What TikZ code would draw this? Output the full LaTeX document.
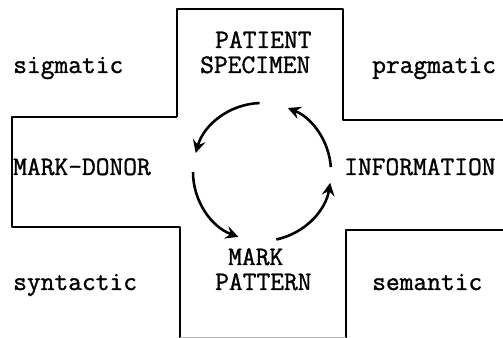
\documentclass[tikz,border=0pt]{standalone}
\usepackage{fontspec}
\usepackage{tikz}
\usetikzlibrary{arrows,arrows.meta,positioning,calc}
\newfontfamily\typewr[FakeBold=1.2]{Latin Modern Mono}

\begin{document}
\begin{tikzpicture}[x=0.03cm, y=0.03cm, >={Stealth[length=11pt,width=11pt,inset=4pt]},
    every node/.style={font=\fontsize{22.8}{24}\typewr, inner sep=0pt, anchor=base west},
    cross/.style={line width=1.2pt, line join=round},
    cycle/.style={line width=2.2pt, ->}]
       \useasboundingbox (0,0) rectangle (503,338);
       % the cross
       \draw[cross] (177,221) -- (177,329) -- (343,329) -- (343,218) -- (503,218);
       \draw[cross] (503,108) -- (346,108) -- (346,0);
       \draw[cross] (177,221) -- (12,221) -- (12,111) -- (180,111) -- (180,0);
       \draw[line width=0.8pt, gray!60] (180,1) -- (346,1);

       % corners
       \node at (13,265) (sig) {sigmatic};
       \node at (372,265) (prag) {pragmatic};
       \node at (13,48) (syn) {syntactic};
       \node at (372,48) (sem) {semantic};

       % arms
       \node at (215,290) (patient) {PATIENT};
       \node at (200,265) (specimen) {SPECIMEN};
       \node at (13,163) (donor) {MARK-DONOR};
       \node at (344,163) (info) {INFORMATION};
       \node at (228,73) (mark) {MARK};
       \node at (215,48) (pattern) {PATTERN};

       % the cycle
       \coordinate (c) at (262,166);
       \draw[cycle] ($(c)+(92:69)$) arc[start angle=92, end angle=164, radius=2.07cm];
       \draw[cycle] ($(c)+(180:69)$) arc[start angle=180, end angle=250, radius=2.07cm];
       \draw[cycle] ($(c)+(282:69)$) arc[start angle=282, end angle=351, radius=2.07cm];
       \draw[cycle] ($(c)+(4:69)$) arc[start angle=4, end angle=68, radius=2.07cm];
\end{tikzpicture}
\end{document}
